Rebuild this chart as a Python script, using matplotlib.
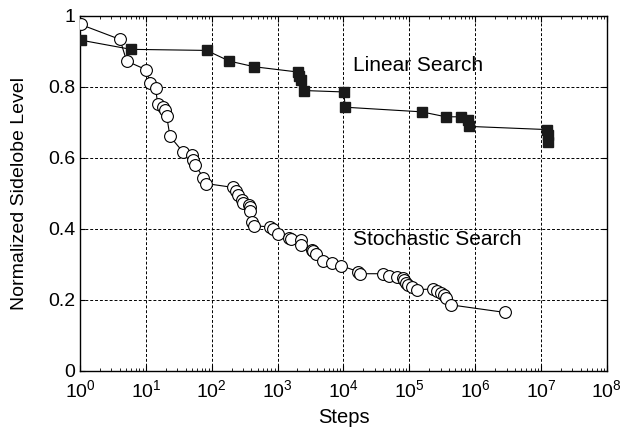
import numpy as np
import matplotlib.pyplot as plt

plt.rcParams['font.family'] = ['Liberation Sans', 'DejaVu Sans']
plt.rcParams['mathtext.fontset'] = 'custom'
plt.rcParams['mathtext.rm'] = 'Liberation Sans'
plt.rcParams['mathtext.it'] = 'Liberation Sans'
plt.rcParams['mathtext.bf'] = 'Liberation Sans'

# stochastic search (open circles), log10(steps) and level
stoch_logx = [0.01, 0.607, 0.708, 1.0, 1.07, 1.148, 1.18, 1.264, 1.285, 1.315,
              1.366, 1.558, 1.699, 1.72, 1.745, 1.872, 1.912, 2.327, 2.367, 2.393,
              2.453, 2.469, 2.57, 2.58, 2.58, 2.605, 2.64, 2.883, 2.933, 3.0,
              3.176, 3.202, 3.349, 3.358, 3.515, 3.54, 3.581, 3.692, 3.824, 3.956,
              4.223, 4.249, 4.593, 4.694, 4.815, 4.897, 4.916, 4.947, 4.982, 5.048,
              5.109, 5.352, 5.422, 5.488, 5.523, 5.564, 5.640, 6.449]
stoch_y = [0.975, 0.933, 0.872, 0.848, 0.809, 0.795, 0.750, 0.743, 0.735, 0.718,
           0.660, 0.617, 0.607, 0.594, 0.580, 0.544, 0.527, 0.516, 0.505, 0.496,
           0.481, 0.472, 0.467, 0.461, 0.449, 0.420, 0.408, 0.405, 0.399, 0.386,
           0.375, 0.371, 0.369, 0.355, 0.340, 0.336, 0.328, 0.309, 0.303, 0.296,
           0.279, 0.273, 0.273, 0.267, 0.263, 0.261, 0.256, 0.248, 0.242, 0.235,
           0.228, 0.230, 0.225, 0.218, 0.212, 0.204, 0.185, 0.164]

# linear search (filled squares)
lin_logx = [0.01, 0.774, 1.922, 2.266, 2.645, 3.313, 3.328, 3.349, 3.399, 4.006,
            4.026, 5.185, 5.554, 5.777, 5.893, 5.903, 7.092, 7.107, 7.107]
lin_y = [0.931, 0.905, 0.902, 0.872, 0.856, 0.841, 0.831, 0.820, 0.789, 0.785,
         0.742, 0.729, 0.715, 0.715, 0.705, 0.688, 0.679, 0.665, 0.643]

stoch_x = 10 ** np.array(stoch_logx)
lin_x = 10 ** np.array(lin_logx)

fig = plt.figure(figsize=(6.27, 4.34), dpi=100)
ax = fig.add_axes([0.1276, 0.146, 0.8404, 0.818])

ax.plot(lin_x, lin_y, color='black', lw=0.8, marker='s', ms=7.5,
        mfc='#1a1a1a', mec='#1a1a1a', zorder=3)
ax.plot(stoch_x, stoch_y, color='black', lw=0.8, marker='o', ms=8.5,
        mfc='white', mec='black', mew=0.8, zorder=3)

ax.set_xscale('log')
ax.set_xlim(1, 1e8)
ax.set_ylim(0, 1)
ax.set_xticks([10.0 ** k for k in range(9)])
ax.set_xticklabels([r'$\mathregular{10^{%d}}$' % k for k in range(9)])
ax.set_yticks([0, 0.2, 0.4, 0.6, 0.8, 1])
ax.set_yticklabels(['0', '0.2', '0.4', '0.6', '0.8', '1'])

ax.grid(True, which='major', ls=(0, (3, 2)), color='black', lw=0.7)
ax.tick_params(which='both', direction='in', top=True, right=True, labelsize=14)
ax.tick_params(axis='x', which='major', length=4, pad=6)
ax.tick_params(which='minor', length=2.5)
for s in ax.spines.values():
    s.set_linewidth(1.0)

ax.text(10 ** 4.15, 0.845, 'Linear Search', fontsize=15)
ax.text(10 ** 4.15, 0.355, 'Stochastic Search', fontsize=15)

ax.set_xlabel('Steps', fontsize=14.5, labelpad=5)
ax.set_ylabel('Normalized Sidelobe Level', fontsize=14, labelpad=14)

fig.savefig('out.png', dpi=100)
